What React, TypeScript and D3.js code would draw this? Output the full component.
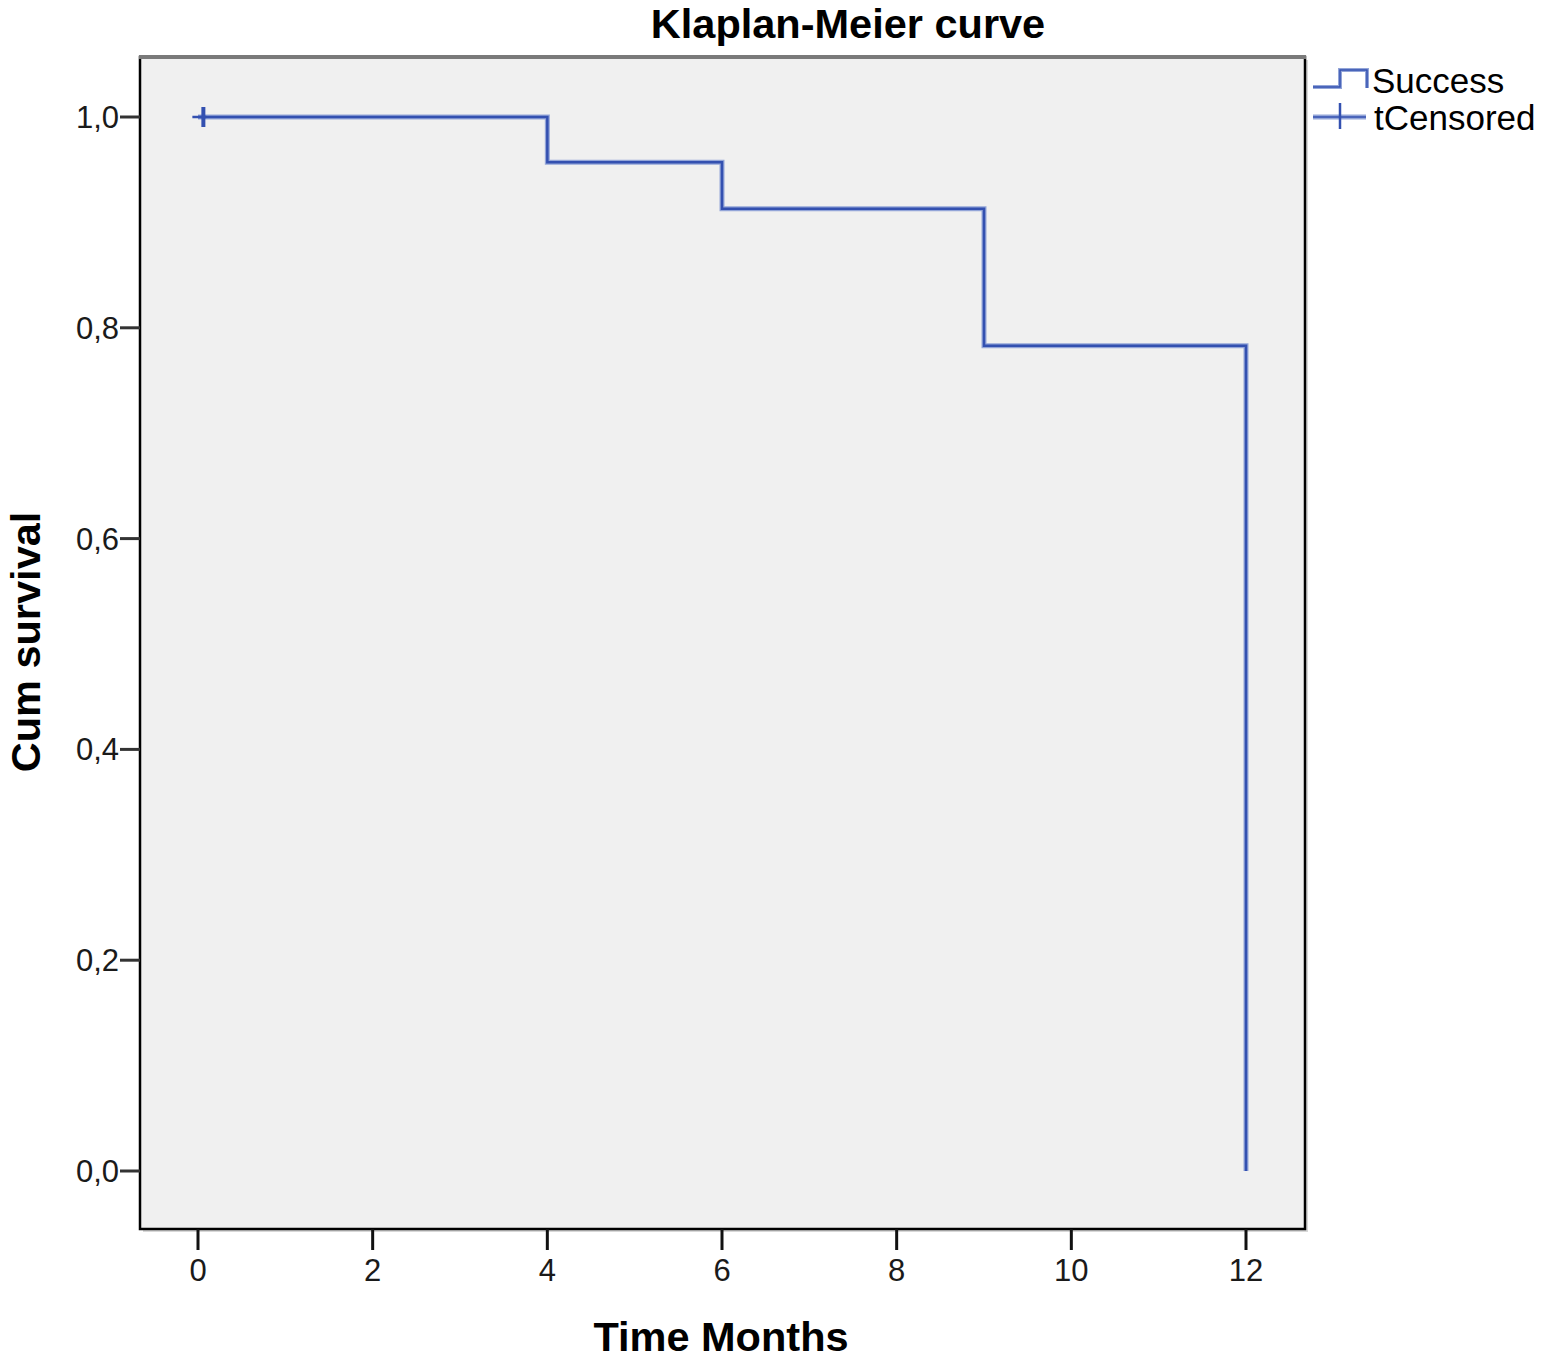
import React from "react";
import * as d3 from "d3";

const stepTimes = [0, 4, 6, 9, 12];
const survival = [1.0, 0.957, 0.913, 0.783, 0.0];
const censoredTimes = [0.05];
const censoredValues = [1.0];
const xTicks = [0, 2, 4, 6, 8, 10, 12];
const yTicks = [0, 0.2, 0.4, 0.6, 0.8, 1.0];
const legendLabels = ["Success", "tCensored"];

const W = 1542, H = 1360;
const left = 140, right = 1305, top = 57, bottom = 1229;
const FONT = "Liberation Sans, Arial, sans-serif";

export default function App() {
  const x = d3.scaleLinear().domain([0, 12]).range([198, 1246]);
  const y = d3.scaleLinear().domain([0, 1]).range([1171, 117]);

  const pts: [number, number][] = [];
  for (let i = 0; i < stepTimes.length; i++) {
    pts.push([stepTimes[i], survival[i]]);
  }
  const line = d3.line<[number, number]>().x(d => x(d[0])).y(d => y(d[1])).curve(d3.curveStepAfter);
  const pathD = line(pts) || "";
  const fmt = (v: number) => v.toFixed(1).replace(".", ",");
  const blue = "#3350b0";
  const light = "#93a5d8";

  return (
    <svg width={W} height={H} style={{ display: "block", position: "absolute", left: 0, top: 0, background: "#fff" }}>
      <text x={848} y={38} textAnchor="middle" fontFamily={FONT} fontWeight="bold" fontSize={41.5} fill="#000">Klaplan-Meier curve</text>
      {/* plot frame */}
      <rect x={left + 3} y={top + 3} width={right - left} height={bottom - top} fill="#d8d8d8" />
      <rect x={left} y={top} width={right - left} height={bottom - top} fill="#f0f0f0" stroke="#000" strokeWidth={2.5} />
      <line x1={left - 1} x2={right + 1} y1={top} y2={top} stroke="#7a7a7a" strokeWidth={4} />
      {/* y ticks */}
      {yTicks.map(t => (
        <g key={"y" + t}>
          <line x1={120} x2={left} y1={y(t)} y2={y(t)} stroke="#333" strokeWidth={3} />
          <text x={119} y={y(t) + 11} textAnchor="end" fontFamily={FONT} fontSize={31} fill="#1a1a1a">{fmt(t)}</text>
        </g>
      ))}
      {/* x ticks */}
      {xTicks.map(t => (
        <g key={"x" + t}>
          <line x1={x(t)} x2={x(t)} y1={bottom} y2={1250} stroke="#111" strokeWidth={3} />
          <text x={x(t)} y={1281} textAnchor="middle" fontFamily={FONT} fontSize={31} fill="#1a1a1a">{t}</text>
        </g>
      ))}
      {/* curve */}
      <path d={pathD} fill="none" stroke={light} strokeWidth={5} />
      <path d={pathD} fill="none" stroke={blue} strokeWidth={2.5} />
      {censoredTimes.map((t, i) => (
        <g key={"c" + i}>
          <line x1={x(t) - 10} x2={x(t) + 4} y1={y(censoredValues[i])} y2={y(censoredValues[i])} stroke={blue} strokeWidth={2.5} />
          <line x1={x(t) + 1} x2={x(t) + 1} y1={y(censoredValues[i]) - 10} y2={y(censoredValues[i]) + 10} stroke={blue} strokeWidth={4} />
        </g>
      ))}
      {/* axis titles */}
      <text x={721} y={1351} textAnchor="middle" fontFamily={FONT} fontWeight="bold" fontSize={41.5} fill="#000">Time Months</text>
      <text transform="translate(40,642) rotate(-90)" textAnchor="middle" fontFamily={FONT} fontWeight="bold" fontSize={41.5} fill="#000">Cum survival</text>
      {/* legend */}
      <path d="M1313,87 H1340 V70 H1367 V88" fill="none" stroke={light} strokeWidth={4} />
      <path d="M1313,87 H1340 V70 H1367 V88" fill="none" stroke={blue} strokeWidth={1.5} />
      <text x={1372} y={93} fontFamily={FONT} fontSize={35} fill="#000">{legendLabels[0]}</text>
      <line x1={1313} x2={1366} y1={117} y2={117} stroke={light} strokeWidth={5} />
      <line x1={1313} x2={1366} y1={117} y2={117} stroke={blue} strokeWidth={1.5} />
      <line x1={1340} x2={1340} y1={103} y2={129} stroke={blue} strokeWidth={2.5} />
      <text x={1374} y={130} fontFamily={FONT} fontSize={35} fill="#000">{legendLabels[1]}</text>
    </svg>
  );
}
